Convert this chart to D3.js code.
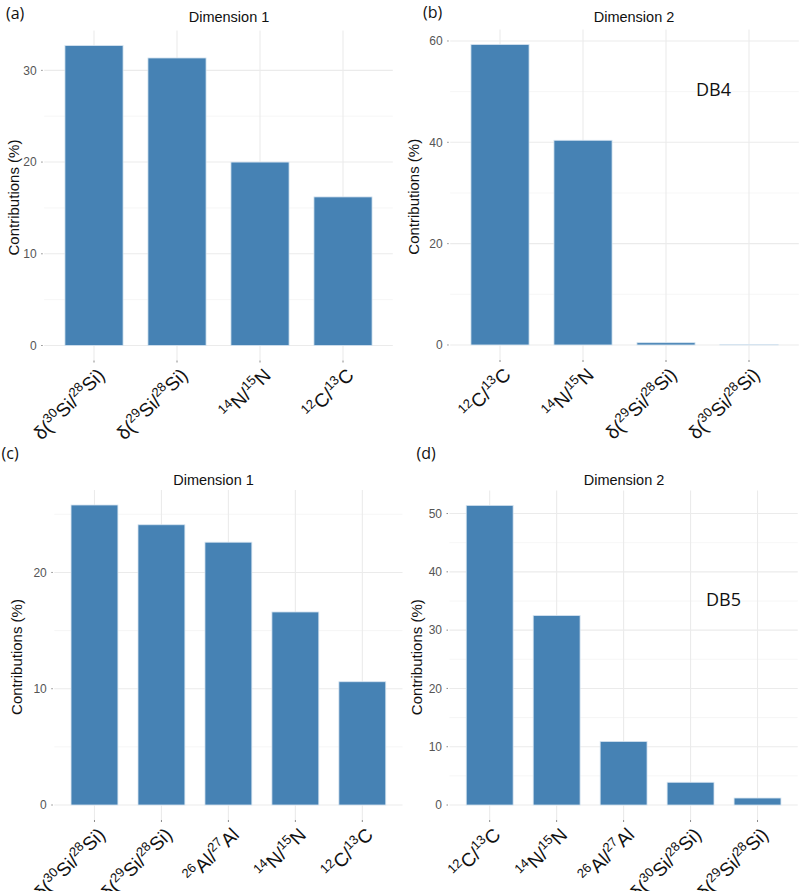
<!DOCTYPE html>
<html>
<head>
<meta charset="utf-8">
<script src="https://cdn.jsdelivr.net/npm/d3@7"></script>
<style>
  html, body { margin: 0; padding: 0; background: #fff; }
  svg { display: block; }
</style>
</head>
<body>
<svg id="chart" width="800" height="891"></svg>
<script>
// ---- Data ----
const catsA = ["δ(^{30}Si/^{28}Si)", "δ(^{29}Si/^{28}Si)", "^{14}N/^{15}N", "^{12}C/^{13}C"];
const valsA = [32.7, 31.35, 20.0, 16.2];
const ticksA = [0, 10, 20, 30];

const catsB = ["^{12}C/^{13}C", "^{14}N/^{15}N", "δ(^{29}Si/^{28}Si)", "δ(^{30}Si/^{28}Si)"];
const valsB = [59.3, 40.4, 0.45, 0.1];
const ticksB = [0, 20, 40, 60];

const catsC = ["δ(^{30}Si/^{28}Si)", "δ(^{29}Si/^{28}Si)", "^{26}Al/^{27}Al", "^{14}N/^{15}N", "^{12}C/^{13}C"];
const valsC = [25.8, 24.1, 22.6, 16.6, 10.6];
const ticksC = [0, 10, 20];

const catsD = ["^{12}C/^{13}C", "^{14}N/^{15}N", "^{26}Al/^{27}Al", "δ(^{30}Si/^{28}Si)", "δ(^{29}Si/^{28}Si)"];
const valsD = [51.4, 32.5, 10.9, 3.9, 1.2];
const ticksD = [0, 10, 20, 30, 40, 50];

const panelLetters = ["(a)", "(b)", "(c)", "(d)"];
const titles = ["Dimension 1", "Dimension 2", "Dimension 1", "Dimension 2"];
const notes = [null, "DB4", null, "DB5"];
const yTitle = "Contributions (%)";

// ---- Layout (positions only) ----
const layout = [
  { x0: 44.2, x1: 392.8, top: 30.6, bottom: 360.5, titleX: 229, titleY: 22, letterX: 6, letterY: 19, yTitleX: 19, noteX: 0, noteY: 0 },
  { x0: 450.2, x1: 798.8, top: 29.5, bottom: 360, titleX: 634, titleY: 22, letterX: 423, letterY: 18, yTitleX: 419, noteX: 696, noteY: 96 },
  { x0: 54.3, x1: 402.5, top: 490, bottom: 820, titleX: 213.5, titleY: 485, letterX: 1.5, letterY: 459, yTitleX: 22, noteX: 0, noteY: 0 },
  { x0: 449.5, x1: 797.7, top: 490.4, bottom: 820, titleX: 624, titleY: 485, letterX: 416.5, letterY: 459, yTitleX: 422, noteX: 706, noteY: 606 }
];

const datasets = [
  { cats: catsA, vals: valsA, ticks: ticksA },
  { cats: catsB, vals: valsB, ticks: ticksB },
  { cats: catsC, vals: valsC, ticks: ticksC },
  { cats: catsD, vals: valsD, ticks: ticksD }
];

const svg = d3.select("#chart");
const SANS = "'Liberation Sans', Arial, Helvetica, sans-serif";
const UI = "'Open Sans', 'Noto Sans', sans-serif";

function parseLabel(s) {
  const parts = [];
  const re = /\^\{([^}]*)\}/g;
  let last = 0, m;
  while ((m = re.exec(s)) !== null) {
    if (m.index > last) parts.push({ t: s.slice(last, m.index), sup: false });
    parts.push({ t: m[1], sup: true });
    last = re.lastIndex;
  }
  if (last < s.length) parts.push({ t: s.slice(last), sup: false });
  return parts;
}

datasets.forEach((ds, i) => {
  const L = layout[i];
  const g = svg.append("g");
  const n = ds.cats.length;
  const maxV = d3.max(ds.vals);

  // discrete scale with ggplot-like 0.6 expansion
  const xLin = d3.scaleLinear().domain([1 - 0.6, n + 0.6]).range([L.x0, L.x1]);
  const step = xLin(2) - xLin(1);
  const bw = step * 0.7;
  const xc = (k) => xLin(k + 1);

  const y = d3.scaleLinear().domain([-0.05 * maxV, maxV * 1.05]).range([L.bottom, L.top]);

  // minor gridlines
  const tStep = ds.ticks[1] - ds.ticks[0];
  const minor = [];
  for (let v = tStep / 2; v < maxV * 1.05; v += tStep) minor.push(v);
  g.selectAll(".minor").data(minor).join("line")
    .attr("x1", L.x0).attr("x2", L.x1)
    .attr("y1", d => y(d)).attr("y2", d => y(d))
    .attr("stroke", "#f4f4f4").attr("stroke-width", 0.8);

  // major gridlines
  g.selectAll(".major").data(ds.ticks).join("line")
    .attr("x1", L.x0).attr("x2", L.x1)
    .attr("y1", d => y(d)).attr("y2", d => y(d))
    .attr("stroke", "#ebebeb").attr("stroke-width", 1.1);

  // vertical gridlines
  g.selectAll(".vgrid").data(ds.cats).join("line")
    .attr("x1", (d, k) => xc(k)).attr("x2", (d, k) => xc(k))
    .attr("y1", L.top).attr("y2", L.bottom)
    .attr("stroke", "#ebebeb").attr("stroke-width", 1.1);

  // bars
  g.selectAll(".bar").data(ds.vals).join("rect")
    .attr("x", (d, k) => xc(k) - bw / 2)
    .attr("width", bw)
    .attr("y", d => y(d))
    .attr("height", d => y(0) - y(d))
    .attr("fill", "#4682B4")
    .attr("stroke", "#d6e4f0")
    .attr("stroke-width", 0.8);

  // y ticks and labels
  g.selectAll(".ytick").data(ds.ticks).join("line")
    .attr("x1", L.x0 - 3).attr("x2", L.x0 - 1.5)
    .attr("y1", d => y(d)).attr("y2", d => y(d))
    .attr("stroke", "#8a8a8a").attr("stroke-width", 1);
  g.selectAll(".ylab").data(ds.ticks).join("text")
    .attr("x", L.x0 - 7.5)
    .attr("y", d => y(d))
    .attr("dy", "0.36em")
    .attr("text-anchor", "end")
    .attr("font-family", SANS)
    .attr("font-size", 12)
    .attr("fill", "#555")
    .text(d => d);

  // x ticks
  g.selectAll(".xtick").data(ds.cats).join("line")
    .attr("x1", (d, k) => xc(k)).attr("x2", (d, k) => xc(k))
    .attr("y1", L.bottom).attr("y2", L.bottom + 2)
    .attr("stroke", "#8a8a8a").attr("stroke-width", 1);

  // x labels (rotated, with superscripts)
  const fs = 19, sfs = 13, sh = 7.5;
  ds.cats.forEach((c, k) => {
    const t = g.append("text")
      .attr("transform", `translate(${xc(k) + 2},${L.bottom + 6}) rotate(-45) translate(0,${fs * 0.74})`)
      .attr("text-anchor", "end")
      .attr("font-family", SANS)
      .attr("font-size", fs)
      .attr("fill", "#111");
    let cur = 0;
    parseLabel(c).forEach(p => {
      const target = p.sup ? -sh : 0;
      t.append("tspan")
        .attr("dy", target - cur)
        .attr("font-size", p.sup ? sfs : fs)
        .text(p.t);
      cur = target;
    });
  });

  // y axis title
  g.append("text")
    .attr("transform", `translate(${L.yTitleX},${(L.top + L.bottom) / 2 + 2}) rotate(-90)`)
    .attr("text-anchor", "middle")
    .attr("font-family", SANS)
    .attr("font-size", 15)
    .attr("fill", "#111")
    .text(yTitle);

  // title
  g.append("text")
    .attr("x", L.titleX).attr("y", L.titleY)
    .attr("text-anchor", "middle")
    .attr("font-family", SANS)
    .attr("font-size", 14.5)
    .attr("fill", "#111")
    .text(titles[i]);

  // panel letter
  g.append("text")
    .attr("x", L.letterX).attr("y", L.letterY)
    .attr("font-family", UI)
    .attr("font-size", 16)
    .attr("fill", "#111")
    .text(panelLetters[i]);

  if (notes[i]) {
    g.append("text")
      .attr("x", L.noteX).attr("y", L.noteY)
      .attr("font-family", UI)
      .attr("font-size", 18)
      .attr("fill", "#111")
      .text(notes[i]);
  }
});
</script>
</body>
</html>
